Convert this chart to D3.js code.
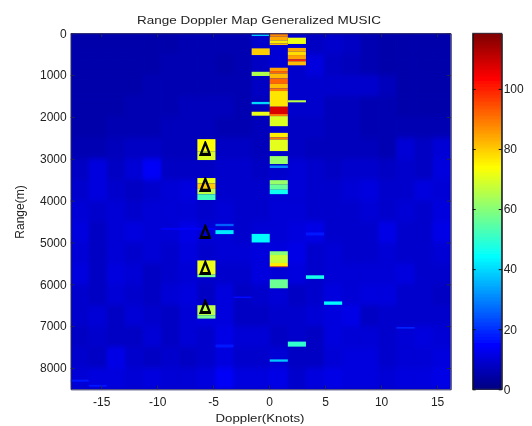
<!DOCTYPE html>
<html><head><meta charset="utf-8">
<script src="https://cdn.jsdelivr.net/npm/d3@7/dist/d3.min.js"></script>
<style>html,body{margin:0;padding:0;background:#fff;overflow:hidden}svg{display:block}text{font-family:"Liberation Sans",Arial,sans-serif;fill:#222}</style>
</head><body><svg id="c" width="532" height="426"></svg>
<script>
const titleText = "Range Doppler Map Generalized MUSIC";
const xLabelText = "Doppler(Knots)";
const yLabelText = "Range(m)";
const xTicks = [-15,-10,-5,0,5,10,15];
const yTicks = [0,1000,2000,3000,4000,5000,6000,7000,8000];
const cTicks = [0,20,40,60,80,100];
const dopplerStart = -17.72, dopplerStep = 1.616, colCount = 21;
const rangeMax = 8510, valueMax = 118.5, bgRowStep = 500;
// coarse clutter floor: one row per 500 m, one value per Doppler bin
const background = [
 [5,5,5,5,5,5,6,6,6,6,9,10,10,8,9,8,6,5,5,5,5],
 [5,5,5,5,5,6,6,6,5,6,8,10,9,11,8,7,6,5,5,5,5],
 [5,5,5,5,6,6,6,6,6,6,8,10,9,9,9,9,9,7,5,5,5],
 [5,5,5,6,6,6,7,7,7,6,7,10,9,9,7,7,6,6,5,5,5],
 [5,5,6,6,6,7,7,7,6,6,7,9,8,8,7,7,6,6,6,6,6],
 [6,6,7,8,8,7,7,6,8,8,7,9,8,7,7,7,7,6,10,8,10],
 [8,11,8,10,14,8,8,8,9,9,8,9,10,9,8,9,9,8,9,8,11],
 [9,11,9,8,9,10,11,8,9,9,9,10,10,9,9,10,11,9,9,11,10],
 [10,9,10,9,10,10,10,9,10,9,9,10,10,9,9,9,10,9,10,9,11],
 [11,8,10,11,10,10,12,10,10,9,10,10,11,12,9,9,9,12,9,9,12],
 [10,8,10,9,10,9,11,9,10,10,11,11,12,9,10,9,9,10,9,9,10],
 [11,8,11,10,8,9,10,9,9,9,11,10,11,9,10,10,10,10,11,9,9],
 [9,8,10,9,8,10,11,8,11,8,9,10,8,9,11,10,11,11,9,9,8],
 [9,10,8,10,9,8,10,11,11,8,8,9,9,10,11,12,8,9,9,9,9],
 [8,9,8,8,10,8,10,9,12,10,10,8,9,8,11,10,10,9,10,11,10],
 [9,8,12,9,8,9,8,9,11,9,9,10,8,8,10,11,11,9,10,10,11],
 [10,11,11,10,11,10,10,11,14,11,11,12,9,11,12,11,11,10,11,11,12]
];
// strong returns: [doppler bin, range from, range to, value]
const centreBin = [
 [11,0,80,88],[11,80,170,84],[11,170,240,76],[11,240,280,82],
 [11,823,903,85],[11,903,960,92],[11,960,1080,82],[11,1080,1210,92],[11,1210,1315,82],[11,1315,1380,90],
 [11,1380,1755,77],[11,1755,1930,108],[11,1930,1980,90],[11,1980,2220,70],
 [11,2380,2490,76],[11,2490,2540,90],[11,2540,2815,71],
 [11,2935,3125,62],[11,3160,3220,30],
 [11,3510,3620,62],[11,3620,3740,56],[11,3740,3845,46],
 [11,5210,5300,60],[11,5300,5490,68],[11,5490,5570,76],[11,5570,5590,92],
 [11,5880,6095,57],[11,7795,7850,38]
];
const leftBin = [
 [10,30,65,38],[10,360,520,80],[10,920,1020,65],[10,1640,1695,40],[10,1875,1970,72],[10,4795,5000,44]
];
const rightBin = [
 [12,105,255,72],[12,350,440,84],[12,440,520,78],[12,520,625,85],[12,625,670,100],[12,670,765,82],
 [12,1600,1650,66],[12,7370,7490,50]
];
const otherBins = [
 [13,5785,5870,47],[13,4760,4830,17],[14,6410,6490,44],[18,7020,7060,19],
 [8,4705,4800,42],[8,4555,4610,26],[8,7440,7510,17],
 [5,4650,4700,14],[6,4650,4700,14],[7,4650,4700,14],
 [9,6290,6330,16],[0,8280,8330,17],[1,8400,8450,17]
];
const targetBin = [
 [7,2530,2820,74],[7,2820,3030,70],
 [7,3460,3590,72],[7,3590,3720,80],[7,3720,3850,66],[7,3850,3985,52],
 [7,5430,5770,72],[7,5770,5830,58],
 [7,6500,6740,66],[7,6740,6820,58]
];
const markerDoppler = [-5.7,-5.7,-5.7,-5.7,-5.7];
const markerRange = [2790,3650,4780,5640,6570];

const svg = d3.select("#c");
const defs = svg.append("defs");
const L=70.7,R=450.7,T=33.3,B=389.3, CL=472.7,CR=501.7,CB=389.3;
const blur=(id,s)=>defs.append("filter").attr("id",id).attr("x","-5%").attr("y","-5%").attr("width","110%").attr("height","110%")
  .append("feGaussianBlur").attr("stdDeviation",s);
blur("floor","1.4 2.4"); blur("soft","0.7");
defs.append("filter").attr("id","softT").append("feGaussianBlur").attr("stdDeviation","0.3");
defs.append("clipPath").attr("id","plotClip").append("rect").attr("x",L).attr("y",T).attr("width",R-L).attr("height",B-T);

const x = d3.scaleLinear().domain([dopplerStart,dopplerStart+colCount*dopplerStep]).range([L,R]);
const y = d3.scaleLinear().domain([0,rangeMax]).range([T,B]);
const cy = d3.scaleLinear().domain([0,valueMax]).range([CB,T]);
const intFmt = d=>String(d);
function jet(v){
  const t=Math.max(0,Math.min(1,v/valueMax));
  const f=a=>Math.round(255*Math.max(0,Math.min(1,1.5-Math.abs(4*t-a))));
  return `rgb(${f(3)},${f(2)},${f(1)})`;
}
const plot = svg.append("g").attr("clip-path","url(#plotClip)");
plot.append("rect").attr("x",L).attr("y",T).attr("width",R-L).attr("height",B-T).attr("fill",jet(8));
const floor = plot.append("g").attr("filter","url(#floor)");
background.forEach((row,ri)=>{
  floor.append("g").selectAll("rect").data(row).join("rect")
    .attr("x",(d,i)=>x(dopplerStart+i*dopplerStep))
    .attr("y",y(ri*bgRowStep))
    .attr("width",x(dopplerStep)-x(0)+.3)
    .attr("height",y(Math.min(rangeMax,(ri+1)*bgRowStep))-y(ri*bgRowStep)+.3)
    .attr("fill",d=>jet(d));
});
const cells = plot.append("g").attr("filter","url(#soft)");
cells.append("g").selectAll("rect").data([...otherBins,...leftBin,...rightBin,...centreBin,...targetBin]).join("rect")
  .attr("x",d=>x(dopplerStart+d[0]*dopplerStep))
  .attr("y",d=>y(d[1]))
  .attr("width",x(dopplerStep)-x(0))
  .attr("height",d=>y(d[2])-y(d[1]))
  .attr("fill",d=>jet(d[3]));

// markers
const tri = d3.symbol().type(d3.symbolTriangle).size(54);
plot.append("g").selectAll("path").data(markerRange).join("path")
  .attr("d",tri())
  .attr("transform",(d,i)=>`translate(${x(markerDoppler[i])},${y(d)+0.5}) scale(0.82,1.2)`)
  .attr("fill","none").attr("stroke","#000").attr("stroke-width",2.6).attr("filter","url(#softT)");

// axes
const axes = svg.append("g").attr("filter","url(#softT)");
function style(g,col){
  g.select(".domain").attr("stroke",col);
  g.selectAll(".tick line").attr("stroke",col);
  g.selectAll(".tick text").attr("font-size",12);
}
axes.append("g").attr("transform",`translate(0,${B})`)
  .call(d3.axisBottom(x).tickValues(xTicks).tickFormat(intFmt).tickSize(-4).tickPadding(8).tickSizeOuter(0)).call(style,"#23235a");
axes.append("g").attr("transform",`translate(${L},0)`)
  .call(d3.axisLeft(y).tickValues(yTicks).tickFormat(intFmt).tickSize(-4).tickPadding(4).tickSizeOuter(0)).call(style,"#23235a");
axes.append("g").attr("transform",`translate(${R},0)`)
  .call(d3.axisRight(y).tickValues(yTicks).tickFormat("").tickSize(-4).tickSizeOuter(0)).call(style,"#23235a");
axes.append("g").attr("transform",`translate(0,${T})`)
  .call(d3.axisTop(x).tickValues(xTicks).tickFormat("").tickSize(-4).tickSizeOuter(0)).call(style,"#23235a");

// colour bar
const barSteps = 64*4;
const steps = d3.range(barSteps).map(i=>(i+.5)*valueMax/barSteps);
const bar = svg.append("g").attr("filter","url(#softT)");
bar.append("g").attr("shape-rendering","crispEdges").selectAll("rect").data(steps).join("rect")
  .attr("x",CL).attr("width",CR-CL)
  .attr("y",d=>cy(d+valueMax/barSteps/2)).attr("height",d=>cy(d-valueMax/barSteps/2)-cy(d+valueMax/barSteps/2)+.6)
  .attr("fill",d=>jet(d));
bar.append("rect").attr("x",CL).attr("y",T).attr("width",CR-CL).attr("height",CB-T).attr("fill","none").attr("stroke","#334");
bar.append("g").attr("transform",`translate(${CR},0)`)
  .call(d3.axisRight(cy).tickValues(cTicks).tickFormat(intFmt).tickSize(-3).tickPadding(2).tickSizeOuter(0)).call(style,"#111");
bar.append("g").attr("transform",`translate(${CL},0)`)
  .call(d3.axisRight(cy).tickValues(cTicks).tickFormat("").tickSize(3).tickSizeOuter(0)).call(style,"#111");

// titles
axes.append("text").attr("x",259).attr("y",24).attr("text-anchor","middle").attr("font-size",10.5)
  .attr("textLength",244).attr("lengthAdjust","spacingAndGlyphs").text(titleText);
axes.append("text").attr("x",260).attr("y",422).attr("text-anchor","middle").attr("font-size",11)
  .attr("textLength",89).attr("lengthAdjust","spacingAndGlyphs").text(xLabelText);
axes.append("text").attr("transform","translate(24,212) rotate(-90)").attr("text-anchor","middle").attr("font-size",12).text(yLabelText);
</script></body></html>
